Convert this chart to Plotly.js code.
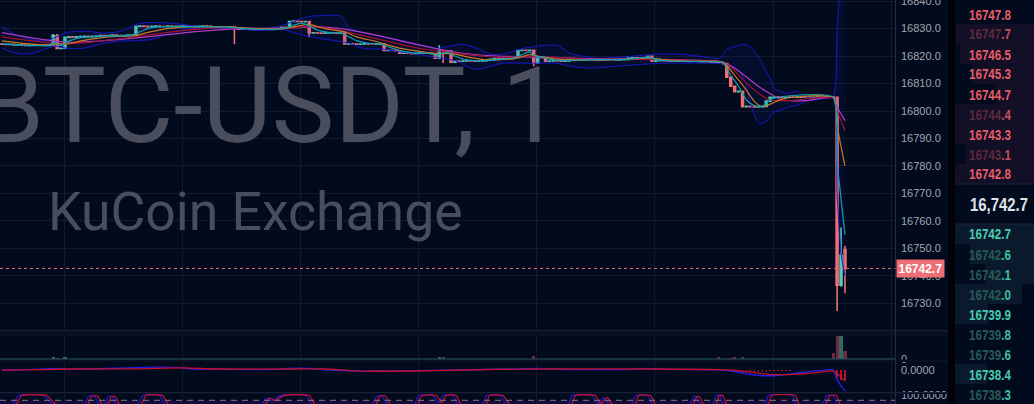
<!DOCTYPE html>
<html><head><meta charset="utf-8">
<script src="https://cdn.plot.ly/plotly-3.0.1.min.js"></script>
<style>html,body{margin:0;padding:0;background:#020a1e;overflow:hidden}#chart{width:1034px;height:404px}</style>
</head><body><div id="chart"></div>
<script>
// ---------- 1-minute candles (index = minute) ----------
const open = [
16824.4,16824.3,16824.2,16824.3,16824.0,16824.1,16824.0,16823.9,16824.0,16824.1,
16824.0,16824.0,16823.9,16824.0,16827.5,16822.8,16822.9,16826.8,16827.0,16826.9,
16827.0,16827.1,16827.2,16827.1,16827.2,16827.3,16827.5,16827.4,16827.5,16827.6,
16827.5,16827.4,16827.5,16827.6,16827.5,16830.8,16830.9,16830.8,16830.7,16830.8,
16830.9,16830.8,16830.8,16830.9,16830.8,16830.7,16830.8,16830.9,16830.8,16830.8,
16830.7,16830.8,16830.9,16830.8,16830.5,16830.6,16830.5,16830.4,16830.5,16830.6,
16830.3,16829.8,16829.9,16829.8,16829.7,16829.8,16829.9,16829.8,16829.8,16829.7,
16829.8,16829.9,16830.5,16830.4,16832.6,16832.7,16832.6,16832.5,16832.6,16828.4,
16828.5,16828.4,16828.3,16828.4,16828.5,16828.4,16828.3,16828.4,16824.4,16824.5,
16824.4,16824.3,16824.4,16824.5,16824.4,16824.4,16824.3,16824.4,16822.0,16822.1,
16822.0,16821.9,16821.0,16821.1,16821.0,16820.9,16821.0,16821.1,16821.0,16821.0,
16820.9,16819.2,16821.8,16821.7,16821.8,16817.8,16818.2,16818.1,16818.2,16818.3,
16818.2,16818.1,16818.2,16818.3,16818.6,16818.8,16819.0,16818.9,16819.2,16819.3,
16819.2,16819.5,16822.0,16822.1,16822.0,16822.1,16817.5,16819.5,16819.4,16818.1,
16818.2,16818.3,16818.2,16818.1,16818.2,16818.7,16818.8,16818.7,16818.6,16818.7,
16818.8,16818.7,16818.6,16818.7,16818.8,16818.7,16818.7,16818.6,16818.7,16818.8,
16819.3,16819.4,16819.3,16819.2,16819.3,16819.9,16818.1,16818.3,16818.4,16818.3,
16818.2,16818.3,16818.1,16818.2,16818.1,16818.0,16818.1,16818.2,16817.9,16818.0,
16817.9,16817.8,16817.7,16817.5,16817.3,16812.3,16809.0,16807.0,16807.2,16801.6,
16801.7,16801.6,16801.5,16801.6,16801.7,16803.6,16805.0,16805.1,16805.0,16804.9,
16805.0,16805.1,16805.0,16805.2,16805.0,16805.1,16804.9,16805.0,16805.1,16805.0,
16805.2,16805.1,16805.0,16736.6,16749.6];
const high = [
16824.4,16824.3,16824.3,16824.3,16824.1,16824.1,16824.0,16824.0,16824.1,16824.1,
16824.0,16824.0,16824.0,16828.0,16828.0,16822.9,16826.8,16827.0,16827.0,16827.0,
16827.1,16827.2,16827.2,16827.2,16827.3,16827.5,16827.5,16827.5,16827.6,16827.6,
16827.5,16827.5,16827.6,16827.6,16830.8,16830.9,16830.9,16830.8,16830.8,16830.9,
16830.9,16830.8,16830.9,16830.9,16830.8,16830.8,16830.9,16830.9,16830.8,16830.8,
16830.8,16830.9,16830.9,16830.8,16830.6,16830.6,16830.5,16830.5,16830.6,16830.6,
16830.3,16829.9,16829.9,16829.8,16829.8,16829.9,16829.9,16829.8,16829.8,16829.8,
16829.9,16830.5,16830.5,16832.6,16832.7,16832.7,16832.6,16832.6,16832.6,16828.5,
16828.5,16828.4,16828.4,16828.5,16828.5,16828.4,16828.4,16828.4,16824.5,16824.5,
16824.4,16824.4,16824.5,16824.5,16824.4,16824.4,16824.4,16824.4,16822.1,16822.1,
16822.0,16821.9,16821.1,16821.1,16821.0,16821.0,16821.1,16821.1,16821.0,16821.0,
16820.9,16823.9,16821.8,16821.8,16821.8,16818.2,16818.2,16818.2,16818.3,16818.3,
16818.2,16818.2,16818.3,16818.6,16818.8,16819.0,16819.0,16819.2,16819.3,16819.3,
16819.5,16822.0,16822.1,16822.1,16822.1,16822.1,16819.5,16819.5,16819.4,16818.2,
16818.3,16818.3,16818.2,16818.2,16818.7,16818.8,16818.8,16818.7,16818.7,16818.8,
16818.8,16818.7,16818.7,16818.8,16818.8,16818.7,16818.7,16818.7,16818.8,16819.3,
16819.4,16819.4,16819.3,16819.3,16819.9,16819.9,16818.3,16818.4,16818.4,16818.3,
16818.3,16818.3,16818.2,16818.2,16818.1,16818.1,16818.2,16818.2,16818.0,16818.0,
16817.9,16817.8,16817.7,16817.5,16817.3,16812.3,16809.0,16807.2,16807.2,16801.7,
16801.7,16801.6,16801.6,16801.7,16803.6,16805.0,16805.1,16805.1,16805.0,16805.0,
16805.1,16805.1,16805.2,16805.2,16805.1,16805.1,16805.0,16805.1,16805.1,16805.2,
16805.2,16805.1,16805.2,16757.6,16751.0];
const low = [
16824.3,16824.2,16824.2,16824.0,16824.0,16824.0,16823.9,16823.9,16824.0,16824.0,
16824.0,16823.9,16823.9,16824.0,16822.6,16822.8,16822.9,16826.8,16826.9,16826.9,
16827.0,16827.1,16827.1,16827.1,16827.2,16827.3,16827.4,16827.4,16827.5,16827.5,
16827.4,16827.4,16827.5,16827.5,16827.5,16830.8,16830.8,16830.7,16830.7,16830.8,
16830.8,16830.8,16830.8,16830.8,16830.7,16830.7,16830.8,16830.8,16830.8,16830.7,
16830.7,16830.8,16830.8,16830.5,16830.5,16830.5,16830.4,16830.4,16830.5,16824.3,
16829.8,16829.8,16829.8,16829.7,16829.7,16829.8,16829.8,16829.8,16829.7,16829.7,
16829.8,16829.9,16830.4,16830.4,16832.6,16832.6,16832.5,16832.5,16826.8,16828.4,
16828.4,16828.3,16828.3,16828.4,16828.4,16828.3,16828.3,16824.4,16824.4,16824.4,
16824.3,16824.3,16824.4,16824.4,16824.4,16824.3,16824.3,16822.0,16822.0,16822.0,
16821.9,16821.0,16821.0,16821.0,16820.9,16820.9,16821.0,16821.0,16821.0,16820.9,
16819.0,16819.2,16817.5,16821.7,16817.8,16817.8,16818.1,16818.1,16818.2,16818.2,
16818.1,16818.1,16818.2,16818.3,16818.6,16818.8,16818.9,16818.9,16819.2,16819.2,
16819.2,16819.5,16822.0,16822.0,16822.0,16816.3,16817.5,16819.4,16818.1,16818.1,
16818.2,16818.2,16818.1,16818.1,16818.2,16818.7,16818.7,16818.6,16818.6,16818.7,
16818.7,16818.6,16818.6,16818.7,16818.7,16818.7,16818.6,16818.6,16818.7,16818.8,
16819.3,16819.3,16819.2,16819.2,16819.3,16818.1,16818.1,16818.3,16818.3,16818.2,
16818.2,16818.1,16818.1,16818.1,16818.0,16818.0,16818.1,16817.9,16817.9,16817.9,
16817.8,16817.7,16817.5,16817.3,16812.3,16809.0,16807.0,16807.0,16801.6,16801.6,
16801.6,16801.5,16801.5,16801.6,16801.7,16803.6,16805.0,16805.0,16804.9,16804.9,
16805.0,16805.0,16805.0,16805.0,16805.0,16804.9,16804.9,16805.0,16805.0,16805.0,
16805.1,16805.0,16727.2,16736.0,16733.7];
const close = [
16824.3,16824.2,16824.3,16824.0,16824.1,16824.0,16823.9,16824.0,16824.1,16824.0,
16824.0,16823.9,16824.0,16827.5,16822.8,16822.9,16826.8,16827.0,16826.9,16827.0,
16827.1,16827.2,16827.1,16827.2,16827.3,16827.5,16827.4,16827.5,16827.6,16827.5,
16827.4,16827.5,16827.6,16827.5,16830.8,16830.9,16830.8,16830.7,16830.8,16830.9,
16830.8,16830.8,16830.9,16830.8,16830.7,16830.8,16830.9,16830.8,16830.8,16830.7,
16830.8,16830.9,16830.8,16830.5,16830.6,16830.5,16830.4,16830.5,16830.6,16830.3,
16829.8,16829.9,16829.8,16829.7,16829.8,16829.9,16829.8,16829.8,16829.7,16829.8,
16829.9,16830.5,16830.4,16832.6,16832.7,16832.6,16832.5,16832.6,16828.4,16828.5,
16828.4,16828.3,16828.4,16828.5,16828.4,16828.3,16828.4,16824.4,16824.5,16824.4,
16824.3,16824.4,16824.5,16824.4,16824.4,16824.3,16824.4,16822.0,16822.1,16822.0,
16821.9,16821.0,16821.1,16821.0,16820.9,16821.0,16821.1,16821.0,16821.0,16820.9,
16819.2,16821.8,16821.7,16821.8,16817.8,16818.2,16818.1,16818.2,16818.3,16818.2,
16818.1,16818.2,16818.3,16818.6,16818.8,16819.0,16818.9,16819.2,16819.3,16819.2,
16819.5,16822.0,16822.1,16822.0,16822.1,16817.5,16819.5,16819.4,16818.1,16818.2,
16818.3,16818.2,16818.1,16818.2,16818.7,16818.8,16818.7,16818.6,16818.7,16818.8,
16818.7,16818.6,16818.7,16818.8,16818.7,16818.7,16818.6,16818.7,16818.8,16819.3,
16819.4,16819.3,16819.2,16819.3,16819.9,16818.1,16818.3,16818.4,16818.3,16818.2,
16818.3,16818.1,16818.2,16818.1,16818.0,16818.1,16818.2,16817.9,16818.0,16817.9,
16817.8,16817.7,16817.5,16817.3,16812.3,16809.0,16807.0,16807.2,16801.6,16801.7,
16801.6,16801.5,16801.6,16801.7,16803.6,16805.0,16805.1,16805.0,16804.9,16805.0,
16805.1,16805.0,16805.2,16805.0,16805.1,16804.9,16805.0,16805.1,16805.0,16805.2,
16805.1,16805.0,16736.6,16747.5,16742.7];

// ---------- moving averages (read at sparse minutes) ----------
const maFastX = [0,3,12,13,14,15,16,18,20,24,26,33,35,37,40,58,60,63,70,72,74,76,78,80,83,86,88,90,93,96,98,100,102,105,109,110,112,113,115,117,120,122,126,130,132,134,135,137,139,142,150,158,162,164,166,170,181,183,185,187,189,191,193,195,197,211,212,213,214];
const maFastY = [16824.5,16824.1,16824,16825,16824.5,16823.8,16824.8,16826,16826.7,16827,16827.3,16827.5,16828.8,16830,16830.6,16830.5,16830.2,16829.9,16829.8,16830.2,16831.2,16832,16831,16829.5,16828.6,16828.4,16827,16825.6,16824.6,16824.4,16823.4,16822.5,16821.7,16821.1,16821,16820.4,16821,16821.4,16820,16818.9,16818.3,16818.2,16818.7,16819.3,16820.5,16821.5,16820.1,16819.7,16818.9,16818.4,16818.7,16818.8,16819.3,16819.6,16818.8,16818.2,16817.9,16817.6,16813,16809,16804,16802,16801.7,16804,16805,16805,16782,16768,16755];
const maMidX = [0,6,12,14,16,20,25,30,34,37,42,48,58,62,68,72,75,78,82,87,90,95,98,102,108,111,114,118,123,130,134,136,140,146,158,164,168,175,183,186,188,191,193,195,198,201,211,212,213,214];
const maMidY = [16825.5,16824.5,16824.1,16824.6,16824.3,16825.5,16826.6,16827.2,16827.5,16828.6,16830,16830.6,16830.6,16830.2,16829.9,16830.1,16830.9,16831.5,16830,16828.8,16827,16825.3,16824,16822.6,16821.3,16820.8,16821,16819.7,16818.6,16819,16820.5,16820,16819,16818.6,16818.8,16819.3,16818.7,16818.1,16817.8,16813,16809.5,16803.5,16801.5,16802.5,16804.3,16805,16805,16795,16787,16780];
const maSlowX = [0,6,12,16,22,30,36,42,50,58,66,72,78,84,90,96,102,108,114,120,126,134,140,150,160,170,182,185,188,192,195,200,211,212,213,214];
const maSlowY = [16827,16825.8,16824.8,16824.5,16825,16826.3,16827.4,16828.6,16829.8,16830.4,16830,16830,16830.7,16829.8,16828,16826,16824,16822.3,16821.3,16820.2,16819.5,16819.9,16819.5,16818.8,16818.9,16818.6,16818,16816,16811.5,16806.5,16804,16803.8,16804.8,16800,16796.5,16792.8];
const maLongX = [0,6,12,18,26,34,42,50,58,66,74,80,86,92,98,104,110,116,122,130,140,150,160,170,182,185,188,192,196,198,204,211,212,213,214];
const maLongY = [16828.5,16827,16825.7,16825,16825.6,16826.6,16827.8,16829,16829.8,16830.1,16830.3,16830.6,16830,16828.5,16826.6,16824.6,16822.8,16821.2,16820.3,16819.8,16819.5,16819,16818.9,16818.7,16818.1,16816.5,16813.5,16809,16805.5,16804,16803.8,16804.8,16801.5,16799,16796.5];

// ---------- Bollinger bands ----------
const bbUpX = [0,3.3,6,10,13,16.5,22,25.6,30,35,40,43.4,50,58.6,68,71.3,74,78,82.5,86,88.3,95.9,100.3,105.6,110.4,113.7,117,120.6,123.9,127.2,131.5,135.8,140.9,144.2,151,159.4,166.2,172,177.2,182.2,184,186.5,188.6,190.4,192.4,194.9,196.2,199.2,201.8,203.3,205.8,210.9,212,213,214];
const bbUpY = [16830.8,16827.9,16826.5,16825.5,16826.5,16828.6,16829,16828.3,16829,16831.9,16832.2,16831.9,16830.8,16830.4,16830.1,16831.2,16832.6,16834.4,16834.8,16834.6,16830.1,16827.2,16826.1,16824.3,16822.8,16823.6,16824.3,16822.8,16820.7,16820.7,16822.5,16823.6,16823.9,16821,16819.2,16819.9,16820.7,16820.7,16819.9,16819.2,16822.5,16823.6,16824.3,16822.8,16818.8,16812,16808,16806.5,16807.2,16805.4,16804.7,16805.2,16830,16848,16855];
const bbLoX = [0,2,4.6,7.9,11.4,13.5,16.5,20.6,23.1,25.6,30,35,38.3,41.9,45.9,52,58.6,65.5,70.6,73,75.6,80.7,84,88.3,91.6,96.7,100.3,105.3,108.6,115.5,118.8,121.3,123.9,127.2,134,140.9,144.2,149.2,156.1,162.7,167.8,179.7,184,186.5,188.6,189.8,191.1,192.4,194.2,195.7,199.2,202.5,204.3,207.6,211,212,213,214];
const bbLoY = [16822.8,16821.7,16820.7,16821,16822.8,16823.6,16822.8,16822.8,16823.6,16824.6,16825.4,16825.7,16826.1,16827.9,16829.7,16830.1,16830.1,16829.3,16829.7,16829,16827.9,16826.4,16825.7,16824.6,16822.8,16822.5,16821.7,16820.7,16819.9,16818.1,16815.6,16815.2,16816.3,16817.4,16817.4,16817.4,16816.3,16815.6,16816.3,16817,16817.4,16817.4,16817,16815.6,16810.9,16803.6,16798.2,16795.3,16796.4,16799.3,16801.1,16802.5,16803.6,16804.3,16804.7,16770,16748,16740];

// ---------- volume (non-zero minutes) ----------
const volX = [13,14,16,111,112,135,182,185,186,188,211,212,213,214];
const volY = [7,3.5,7,7,7,11,7,3.5,7,7,21,89,89,29];

// ---------- MACD ----------
const macdX = [0,8,14,18,36,44,48,58,70,73,78,82,88,92,98,101,106,112,125,137,142,160,163,170,182,186,190,193,198,203,208,211,212,213,214];
const macdY = [0.2,0.5,1.0,0.5,1.5,1.5,0.8,0.5,0.5,1.0,1.0,0.3,-0.2,-0.45,-0.2,-0.3,-0.1,0.1,0.6,1.0,0.5,0.5,1.0,0.5,0.3,-0.5,-2.0,-2.6,-2.2,-1.0,0.0,0.3,-4.5,-7.5,-10];
const sigX = [0,10,18,35,46,55,75,82,90,100,110,125,140,165,182,188,194,200,206,211,212,213,214];
const sigY = [0.1,0.4,0.7,0.8,1.2,0.7,0.7,0.7,-0.2,-0.4,-0.1,0.5,0.7,0.7,0.4,-0.3,-1.8,-2.0,-1.2,-0.3,-1.5,-3.3,-5.0];
const histX = [4,5,6,7,8,17,18,19,20,21,22,35,36,37,38,39,73,74,75,76,77,93,94,95,96,104,105,106,111,112,113,185,186,187,188,189,190,191,192,193,194,195,196,197,198,199,200,212,213,214];
const histY = [0.3,0.35,0.35,0.3,0.25,0.3,0.4,0.4,0.35,0.3,0.25,0.4,0.45,0.45,0.4,0.3,0.35,0.4,0.4,0.35,0.3,-0.3,-0.35,-0.3,-0.25,0.3,0.3,0.25,0.3,0.35,0.3,-0.3,-0.5,-0.7,-0.9,-1.0,-1.0,-0.9,-0.8,-0.7,-0.6,-0.5,-0.4,-0.3,-0.3,-0.2,-0.2,-3.5,-4.6,-5.2];

// ---------- Stochastic (cropped pane) ----------
const kX = [0,2.5,4.2,10.5,13.5,20.8,22,23.5,24.8,25.8,27,28,29.2,34.3,35.8,40,41.8,65.5,67.2,68.5,70.8,77.2,79,93.8,95.2,96.5,98,104.5,105.8,109.5,110.8,112,114.5,116,121.8,123,126.4,128.5,143.5,144.8,149.8,151.2,152.8,154.5,159.8,160.8,163.8,165.5,174.3,175.6,176.3,177.5,180.3,181.3,182.2,183.4,193.5,194.6,200.6,201.8,208,209.4,211,212.2,214];
const kY = [55,55,100,100,55,55,98,98,55,55,96,96,55,55,100,100,55,55,90,78,100,100,55,55,98,98,55,55,100,100,70,100,100,55,55,100,100,55,55,100,100,65,92,55,55,100,100,55,55,95,95,55,55,100,100,55,55,100,100,55,55,100,100,55,40];
const dX = [0,3.3,5,11.3,14.3,21.6,22.8,24.3,25.6,26.6,27.8,28.8,30,35.1,36.6,40.8,42.6,66.3,68,69.3,71.6,78,79.8,94.6,96,97.3,98.8,105.3,106.6,110.3,111.6,112.8,115.3,116.8,122.6,123.8,127.2,129.3,144.3,145.6,150.6,152,153.6,155.3,160.6,161.6,164.6,166.3,175.1,176.4,177.1,178.3,181.1,182.1,183,184.2,194.3,195.4,201.4,202.6,208.8,210.2,211.8,213,214];
const dY = [55,55,100,100,55,55,98,98,55,55,96,96,55,55,100,100,55,55,90,78,100,100,55,55,98,98,55,55,100,100,70,100,100,55,55,100,100,55,55,100,100,65,92,55,55,100,100,55,55,95,95,55,55,100,100,55,55,100,100,55,55,100,100,55,50];

// ---------- order book ----------
const askPrices = ['16747.8','16747.7','16746.5','16745.3','16744.7','16744.4','16743.3','16743.1','16742.8'];
const askStrong = [true,false,true,true,true,false,true,false,true];
const bidPrices = ['16742.7','16742.6','16742.1','16742.0','16739.9','16739.8','16739.6','16738.4','16738.3'];
const bidStrong = [true,false,false,false,true,false,false,true,false];
const lastPrice = 16742.7;
const midText = '16,742.7';

// ---------- drawing ----------
const W = 895, H = 404;
const px = x => x / W;
const py = y => 1 - y / H;
const UP = '#4fd0b6', DN = '#ef6f76';
const idx = close.map((_, i) => i);
const spl = {shape:'spline', smoothing:0.6};

const traces = [];
traces.push({type:'scatter', mode:'lines', x:bbUpX, y:bbUpY, line:Object.assign({color:'#1818cc', width:1}, spl), hoverinfo:'skip'});
traces.push({type:'scatter', mode:'lines', x:bbLoX, y:bbLoY, line:Object.assign({color:'#1818cc', width:1}, spl), fill:'tonexty', fillcolor:'rgba(40,50,190,0.10)', hoverinfo:'skip'});
traces.push({type:'candlestick', x:idx, open, high, low, close,
  increasing:{line:{color:UP, width:1.6}, fillcolor:UP},
  decreasing:{line:{color:DN, width:1.6}, fillcolor:DN},
  whiskerwidth:0, hoverinfo:'skip'});
traces.push({type:'scatter', mode:'lines', x:maLongX, y:maLongY, line:Object.assign({color:'#b03cc4', width:1.2}, spl), hoverinfo:'skip'});
traces.push({type:'scatter', mode:'lines', x:maSlowX, y:maSlowY, line:Object.assign({color:'#a4102e', width:1.2}, spl), hoverinfo:'skip'});
traces.push({type:'scatter', mode:'lines', x:maMidX, y:maMidY, line:Object.assign({color:'#c87a1e', width:1.2}, spl), hoverinfo:'skip'});
traces.push({type:'scatter', mode:'lines', x:maFastX, y:maFastY, line:Object.assign({color:'#129fb4', width:1.2}, spl), hoverinfo:'skip'});

const volColors = volX.map(i => close[i] >= open[i] ? 'rgba(60,140,130,0.75)' : 'rgba(150,55,75,0.75)');
traces.push({type:'bar', x:volX, y:volY, yaxis:'y2', width:0.8, marker:{color:volColors, line:{width:0}}, hoverinfo:'skip'});
traces.push({type:'bar', x:histX, y:histY, yaxis:'y3', width:0.35, marker:{color:'#b5102e', line:{width:0}}, hoverinfo:'skip'});
traces.push({type:'scatter', mode:'lines', x:macdX, y:macdY, yaxis:'y3', line:Object.assign({color:'#2222e0', width:1.4}, spl), hoverinfo:'skip'});
traces.push({type:'scatter', mode:'lines', x:sigX, y:sigY, yaxis:'y3', line:Object.assign({color:'#c8102e', width:1.3}, spl), hoverinfo:'skip'});
traces.push({type:'scatter', mode:'lines', x:kX, y:kY, yaxis:'y4', line:{color:'#1c1cd4', width:1.3, shape:'spline', smoothing:0.5}, hoverinfo:'skip'});
traces.push({type:'scatter', mode:'lines', x:dX, y:dY, yaxis:'y4', line:{color:'#c8102e', width:1.3, shape:'spline', smoothing:0.5}, hoverinfo:'skip'});

const shapes = [];
const sepFill = '#0a1024', sepLine = '#1a2035';
[[330,336],[359.5,362],[392,394]].forEach(([a,b]) => {
  shapes.push({type:'rect', xref:'paper', yref:'paper', x0:0, x1:px(948), y0:py(b), y1:py(a), fillcolor:sepFill, line:{width:0}, layer:'above'});
});
shapes.push({type:'line', xref:'paper', yref:'paper', x0:0, x1:px(948), y0:py(330.5), y1:py(330.5), line:{color:sepLine, width:1}});
shapes.push({type:'line', xref:'paper', yref:'paper', x0:0, x1:px(948), y0:py(392.5), y1:py(392.5), line:{color:sepLine, width:1}});
shapes.push({type:'line', xref:'paper', yref:'paper', x0:0, x1:1, y0:py(359), y1:py(359), line:{color:'#28575a', width:1.2}});
shapes.push({type:'line', xref:'paper', yref:'paper', x0:px(895.5), x1:px(895.5), y0:0, y1:1, line:{color:'#252b3c', width:1}});
shapes.push({type:'rect', xref:'paper', yref:'paper', x0:px(948), x1:px(955), y0:0, y1:1, fillcolor:'#000208', line:{width:0}});
shapes.push({type:'rect', xref:'paper', yref:'y4', x0:0, x1:1, y0:60, y1:80, fillcolor:'#170c37', line:{width:0}, layer:'below'});
shapes.push({type:'line', xref:'paper', yref:'y4', x0:0, x1:1, y0:80, y1:80, line:{color:'#7c7d8c', width:1, dash:'6px,5px'}});
shapes.push({type:'line', xref:'paper', yref:'y', x0:0, x1:1, y0:lastPrice, y1:lastPrice, line:{color:DN, width:1, dash:'dot'}});
const askDepth = [[956,24],[960,44],[973,64],[997,84],[955,104],[955,124],[966,144],[955,164]];
askDepth.forEach(([x0,y0]) => shapes.push({type:'rect', xref:'paper', yref:'paper', x0:px(x0), x1:px(1034), y0:py(y0+20), y1:py(y0), fillcolor:'#120f26', line:{width:0}, layer:'above'}));
const bidDepth = [[955,1034,224],[970,1034,244],[985,1034,264],[955,1022,284],[955,988,304],[955,987,364]];
bidDepth.forEach(([x0,x1,y0]) => shapes.push({type:'rect', xref:'paper', yref:'paper', x0:px(x0), x1:px(x1), y0:py(y0+20), y1:py(y0), fillcolor:'#0a1a2c', line:{width:0}, layer:'above'}));
shapes.push({type:'line', xref:'paper', yref:'paper', x0:px(955), x1:px(1034), y0:py(184), y1:py(184), line:{color:'#1f2538', width:1}});
shapes.push({type:'line', xref:'paper', yref:'paper', x0:px(955), x1:px(1034), y0:py(224), y1:py(224), line:{color:'#1f2538', width:1}});

const annotations = [];
const squeeze = {};
const wm = '#4a4e5c';
annotations.push({xref:'paper', yref:'paper', x:px(-24), y:py(106), xanchor:'left', yanchor:'middle', text:'BTC-USDT, 1', showarrow:false, font:{family:'Roboto, sans-serif', size:106, color:wm}});
annotations.push({xref:'paper', yref:'paper', x:px(46), y:py(211), xanchor:'left', yanchor:'middle', text:'KuCoin Exchange', showarrow:false, font:{family:'Roboto, sans-serif', size:53.5, color:wm}});
annotations.push({xref:'paper', yref:'y', x:px(896), y:lastPrice, xanchor:'left', yanchor:'middle', text:'<b>' + lastPrice.toFixed(1) + '</b>', showarrow:false, bgcolor:DN, borderpad:1.5, font:{family:'Liberation Sans, Arial, sans-serif', size:12, color:'#ffffff'}});
const obFont = "'Liberation Sans', Arial, sans-serif";
function split(p){ const k = p.indexOf('.'); return [p.slice(0,k), p.slice(k)]; }
askPrices.forEach((p, r) => {
  const [a,b] = split(p);
  const t = askStrong[r] ? '<b>' + p + '</b>' : '<b><span style="color:#5a2b3c">' + a + '</span><span style="color:#c8505e">' + b + '</span></b>';
  squeeze[annotations.length] = 42;
  annotations.push({xref:'paper', yref:'paper', x:px(967), y:py(14 + 20*r), xanchor:'left', yanchor:'middle', align:'left', text:t, showarrow:false, font:{family:obFont, size:15, color:'#e85d6a'}});
});
bidPrices.forEach((p, r) => {
  const [a,b] = split(p);
  const t = bidStrong[r] ? '<b>' + p + '</b>' : '<b><span style="color:#285a55">' + a + '</span><span style="color:#43bfa2">' + b + '</span></b>';
  squeeze[annotations.length] = 42;
  annotations.push({xref:'paper', yref:'paper', x:px(967), y:py(234 + 20*r), xanchor:'left', yanchor:'middle', align:'left', text:t, showarrow:false, font:{family:obFont, size:15, color:'#48cdb0'}});
});
squeeze[annotations.length] = 58;
annotations.push({xref:'paper', yref:'paper', x:px(968), y:py(205), xanchor:'left', yanchor:'middle', align:'left', text:'<b>' + midText + '</b>', showarrow:false, font:{family:obFont, size:18, color:'#dfe2ea'}});

const axCommon = {side:'right', zeroline:false, ticks:'', fixedrange:true, ticklabelstandoff:5, ticklabeloverflow:'allow', tickfont:{family:'Liberation Sans, Arial, sans-serif', size:11, color:'#a3a6af'}};
const layout = {
  width:1034, height:404, margin:{l:0, r:139, t:0, b:0},
  paper_bgcolor:'#020a1e', plot_bgcolor:'#020a1e', showlegend:false, dragmode:false,
  xaxis:{range:[-0.5,226.7], showticklabels:false, showgrid:true, gridcolor:'#121a2e', gridwidth:1, tick0:15.75, dtick:30, zeroline:false, ticks:'', rangeslider:{visible:false}, fixedrange:true},
  yaxis:Object.assign({domain:[py(330),1], range:[16720.3,16840.4], showgrid:true, gridcolor:'#121a2e', tick0:16700, dtick:10, tickformat:'.1f'}, axCommon),
  yaxis2:Object.assign({domain:[py(359),py(331)], range:[0,100], showgrid:false, tickvals:[0], ticktext:['0']}, axCommon),
  yaxis3:Object.assign({domain:[py(392),py(362)], range:[-10.5,4.1], showgrid:false, tickvals:[0], ticktext:['0.0000']}, axCommon),
  yaxis4:Object.assign({domain:[0,py(394)], range:[64.6,106.25], showgrid:false, tickvals:[100], ticktext:['100.0000']}, axCommon),
  shapes, annotations, bargap:0
};
traces.forEach(t => { if (!t.yaxis) t.yaxis = 'y'; t.xaxis = 'x'; });
Plotly.newPlot('chart', traces, layout, {staticPlot:true, displayModeBar:false}).then(gd => {
  // the original order book uses a condensed face: narrow the rendered text horizontally
  Object.keys(squeeze).forEach(k => {
    const t = gd.querySelector('.annotation[data-index="' + k + '"] text.annotation-text');
    if (!t) return;
    const w = t.getComputedTextLength();
    if (!w) return;
    const x0 = parseFloat(t.getAttribute('x')) || 0;
    const s = squeeze[k] / w;
    t.setAttribute('transform', 'translate(' + x0 + ',0) scale(' + s + ',1) translate(' + (-x0) + ',0)');
  });
});
</script></body></html>
